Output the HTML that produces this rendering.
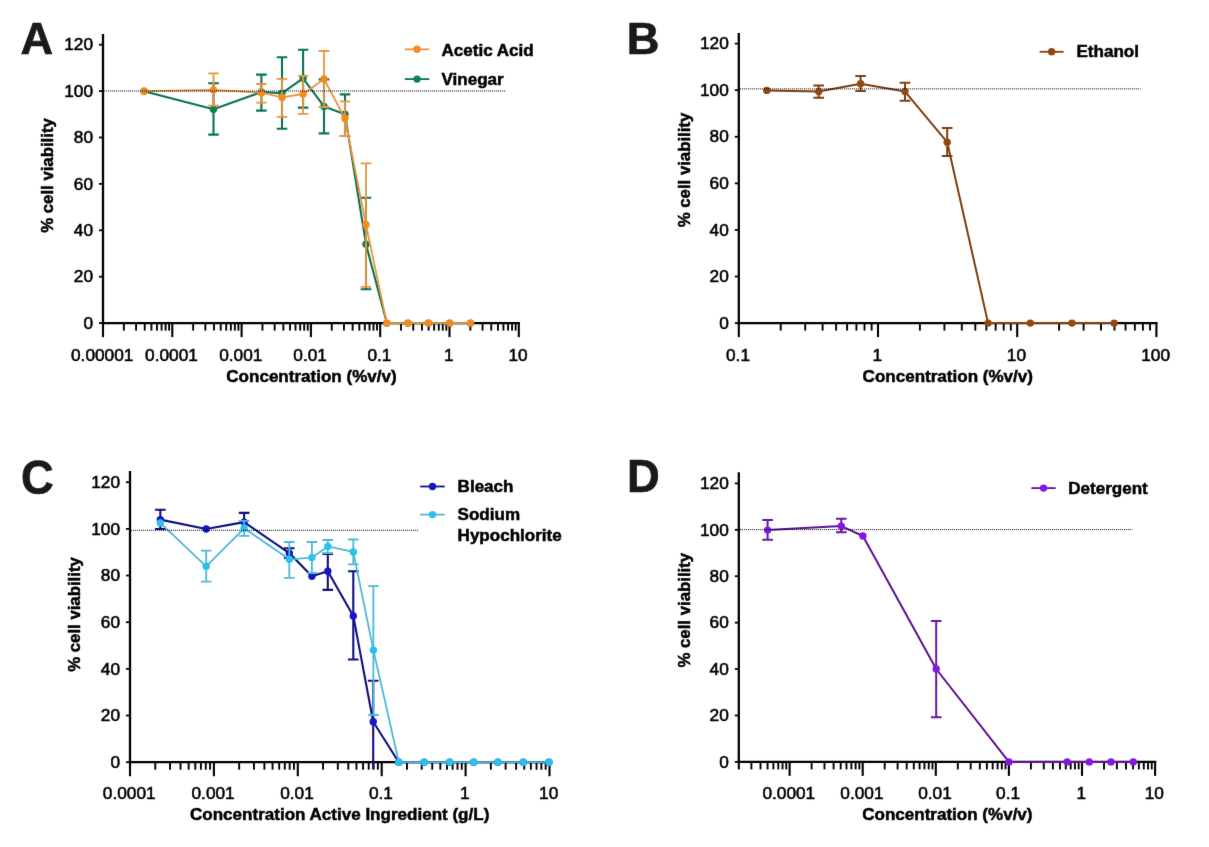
<!DOCTYPE html>
<html><head><meta charset="utf-8"><title>Figure</title>
<style>html,body{margin:0;padding:0;background:#fff}body{width:1209px;height:847px;overflow:hidden;font-family:"Liberation Sans",sans-serif}svg{display:block}</style>
</head><body>
<svg width="1209" height="847" viewBox="0 0 1209 847" font-family="Liberation Sans, sans-serif">
<defs><filter id="soft" x="0" y="0" width="1209" height="847" filterUnits="userSpaceOnUse" color-interpolation-filters="sRGB"><feConvolveMatrix order="3" kernelMatrix="0.00524 0.06192 0.00524 0.06192 0.73137 0.06192 0.00524 0.06192 0.00524" divisor="1" edgeMode="duplicate" preserveAlpha="true"/></filter></defs>
<rect width="1209" height="847" fill="#fff"/>
<g filter="url(#soft)">
<rect width="1209" height="847" fill="#fff"/>
<text x="20.6" y="54.2" font-size="45.2" font-weight="bold" fill="#1a1a1a" stroke="#1a1a1a" stroke-width="0.7" stroke-linejoin="round">A</text>
<line x1="103" y1="34" x2="103" y2="324.25" stroke="#000" stroke-width="2.3"/>
<line x1="101.85" y1="323.1" x2="519.9499999999999" y2="323.1" stroke="#000" stroke-width="2.3"/>
<line x1="99.0" y1="323.10" x2="103" y2="323.10" stroke="#000" stroke-width="1.8"/>
<text x="93" y="328.80" font-size="17.25" text-anchor="end" fill="#000" stroke="#000" stroke-width="0.55">0</text>
<line x1="99.0" y1="276.70" x2="103" y2="276.70" stroke="#000" stroke-width="1.8"/>
<text x="93" y="282.40" font-size="17.25" text-anchor="end" fill="#000" stroke="#000" stroke-width="0.55">20</text>
<line x1="99.0" y1="230.30" x2="103" y2="230.30" stroke="#000" stroke-width="1.8"/>
<text x="93" y="236.00" font-size="17.25" text-anchor="end" fill="#000" stroke="#000" stroke-width="0.55">40</text>
<line x1="99.0" y1="183.90" x2="103" y2="183.90" stroke="#000" stroke-width="1.8"/>
<text x="93" y="189.60" font-size="17.25" text-anchor="end" fill="#000" stroke="#000" stroke-width="0.55">60</text>
<line x1="99.0" y1="137.50" x2="103" y2="137.50" stroke="#000" stroke-width="1.8"/>
<text x="93" y="143.20" font-size="17.25" text-anchor="end" fill="#000" stroke="#000" stroke-width="0.55">80</text>
<line x1="99.0" y1="91.10" x2="103" y2="91.10" stroke="#000" stroke-width="1.8"/>
<text x="93" y="96.80" font-size="17.25" text-anchor="end" fill="#000" stroke="#000" stroke-width="0.55">100</text>
<line x1="99.0" y1="44.70" x2="103" y2="44.70" stroke="#000" stroke-width="1.8"/>
<text x="93" y="50.40" font-size="17.25" text-anchor="end" fill="#000" stroke="#000" stroke-width="0.55">120</text>
<line x1="103.00" y1="323.1" x2="103.00" y2="337.1" stroke="#000" stroke-width="2.1"/>
<text x="102.20" y="360.5" font-size="17.25" text-anchor="middle" fill="#000" stroke="#000" stroke-width="0.55">0.00001</text>
<line x1="172.30" y1="323.1" x2="172.30" y2="337.1" stroke="#000" stroke-width="2.1"/>
<text x="171.50" y="360.5" font-size="17.25" text-anchor="middle" fill="#000" stroke="#000" stroke-width="0.55">0.0001</text>
<line x1="241.60" y1="323.1" x2="241.60" y2="337.1" stroke="#000" stroke-width="2.1"/>
<text x="240.80" y="360.5" font-size="17.25" text-anchor="middle" fill="#000" stroke="#000" stroke-width="0.55">0.001</text>
<line x1="310.90" y1="323.1" x2="310.90" y2="337.1" stroke="#000" stroke-width="2.1"/>
<text x="310.10" y="360.5" font-size="17.25" text-anchor="middle" fill="#000" stroke="#000" stroke-width="0.55">0.01</text>
<line x1="380.20" y1="323.1" x2="380.20" y2="337.1" stroke="#000" stroke-width="2.1"/>
<text x="379.40" y="360.5" font-size="17.25" text-anchor="middle" fill="#000" stroke="#000" stroke-width="0.55">0.1</text>
<line x1="449.50" y1="323.1" x2="449.50" y2="337.1" stroke="#000" stroke-width="2.1"/>
<text x="448.70" y="360.5" font-size="17.25" text-anchor="middle" fill="#000" stroke="#000" stroke-width="0.55">1</text>
<line x1="518.80" y1="323.1" x2="518.80" y2="337.1" stroke="#000" stroke-width="2.1"/>
<text x="518.00" y="360.5" font-size="17.25" text-anchor="middle" fill="#000" stroke="#000" stroke-width="0.55">10</text>
<line x1="123.86" y1="323.1" x2="123.86" y2="330.6" stroke="#000" stroke-width="1.9"/>
<line x1="136.06" y1="323.1" x2="136.06" y2="330.6" stroke="#000" stroke-width="1.9"/>
<line x1="144.72" y1="323.1" x2="144.72" y2="330.6" stroke="#000" stroke-width="1.9"/>
<line x1="151.44" y1="323.1" x2="151.44" y2="330.6" stroke="#000" stroke-width="1.9"/>
<line x1="156.93" y1="323.1" x2="156.93" y2="330.6" stroke="#000" stroke-width="1.9"/>
<line x1="161.57" y1="323.1" x2="161.57" y2="330.6" stroke="#000" stroke-width="1.9"/>
<line x1="165.58" y1="323.1" x2="165.58" y2="330.6" stroke="#000" stroke-width="1.9"/>
<line x1="169.13" y1="323.1" x2="169.13" y2="330.6" stroke="#000" stroke-width="1.9"/>
<line x1="193.16" y1="323.1" x2="193.16" y2="330.6" stroke="#000" stroke-width="1.9"/>
<line x1="205.36" y1="323.1" x2="205.36" y2="330.6" stroke="#000" stroke-width="1.9"/>
<line x1="214.02" y1="323.1" x2="214.02" y2="330.6" stroke="#000" stroke-width="1.9"/>
<line x1="220.74" y1="323.1" x2="220.74" y2="330.6" stroke="#000" stroke-width="1.9"/>
<line x1="226.23" y1="323.1" x2="226.23" y2="330.6" stroke="#000" stroke-width="1.9"/>
<line x1="230.87" y1="323.1" x2="230.87" y2="330.6" stroke="#000" stroke-width="1.9"/>
<line x1="234.88" y1="323.1" x2="234.88" y2="330.6" stroke="#000" stroke-width="1.9"/>
<line x1="238.43" y1="323.1" x2="238.43" y2="330.6" stroke="#000" stroke-width="1.9"/>
<line x1="262.46" y1="323.1" x2="262.46" y2="330.6" stroke="#000" stroke-width="1.9"/>
<line x1="274.66" y1="323.1" x2="274.66" y2="330.6" stroke="#000" stroke-width="1.9"/>
<line x1="283.32" y1="323.1" x2="283.32" y2="330.6" stroke="#000" stroke-width="1.9"/>
<line x1="290.04" y1="323.1" x2="290.04" y2="330.6" stroke="#000" stroke-width="1.9"/>
<line x1="295.53" y1="323.1" x2="295.53" y2="330.6" stroke="#000" stroke-width="1.9"/>
<line x1="300.17" y1="323.1" x2="300.17" y2="330.6" stroke="#000" stroke-width="1.9"/>
<line x1="304.18" y1="323.1" x2="304.18" y2="330.6" stroke="#000" stroke-width="1.9"/>
<line x1="307.73" y1="323.1" x2="307.73" y2="330.6" stroke="#000" stroke-width="1.9"/>
<line x1="331.76" y1="323.1" x2="331.76" y2="330.6" stroke="#000" stroke-width="1.9"/>
<line x1="343.96" y1="323.1" x2="343.96" y2="330.6" stroke="#000" stroke-width="1.9"/>
<line x1="352.62" y1="323.1" x2="352.62" y2="330.6" stroke="#000" stroke-width="1.9"/>
<line x1="359.34" y1="323.1" x2="359.34" y2="330.6" stroke="#000" stroke-width="1.9"/>
<line x1="364.83" y1="323.1" x2="364.83" y2="330.6" stroke="#000" stroke-width="1.9"/>
<line x1="369.47" y1="323.1" x2="369.47" y2="330.6" stroke="#000" stroke-width="1.9"/>
<line x1="373.48" y1="323.1" x2="373.48" y2="330.6" stroke="#000" stroke-width="1.9"/>
<line x1="377.03" y1="323.1" x2="377.03" y2="330.6" stroke="#000" stroke-width="1.9"/>
<line x1="401.06" y1="323.1" x2="401.06" y2="330.6" stroke="#000" stroke-width="1.9"/>
<line x1="413.26" y1="323.1" x2="413.26" y2="330.6" stroke="#000" stroke-width="1.9"/>
<line x1="421.92" y1="323.1" x2="421.92" y2="330.6" stroke="#000" stroke-width="1.9"/>
<line x1="428.64" y1="323.1" x2="428.64" y2="330.6" stroke="#000" stroke-width="1.9"/>
<line x1="434.13" y1="323.1" x2="434.13" y2="330.6" stroke="#000" stroke-width="1.9"/>
<line x1="438.77" y1="323.1" x2="438.77" y2="330.6" stroke="#000" stroke-width="1.9"/>
<line x1="442.78" y1="323.1" x2="442.78" y2="330.6" stroke="#000" stroke-width="1.9"/>
<line x1="446.33" y1="323.1" x2="446.33" y2="330.6" stroke="#000" stroke-width="1.9"/>
<line x1="470.36" y1="323.1" x2="470.36" y2="330.6" stroke="#000" stroke-width="1.9"/>
<line x1="482.56" y1="323.1" x2="482.56" y2="330.6" stroke="#000" stroke-width="1.9"/>
<line x1="491.22" y1="323.1" x2="491.22" y2="330.6" stroke="#000" stroke-width="1.9"/>
<line x1="497.94" y1="323.1" x2="497.94" y2="330.6" stroke="#000" stroke-width="1.9"/>
<line x1="503.43" y1="323.1" x2="503.43" y2="330.6" stroke="#000" stroke-width="1.9"/>
<line x1="508.07" y1="323.1" x2="508.07" y2="330.6" stroke="#000" stroke-width="1.9"/>
<line x1="512.08" y1="323.1" x2="512.08" y2="330.6" stroke="#000" stroke-width="1.9"/>
<line x1="515.63" y1="323.1" x2="515.63" y2="330.6" stroke="#000" stroke-width="1.9"/>
<text transform="translate(52.9 175.5) rotate(-90)" font-size="16.8" font-weight="bold" text-anchor="middle" fill="#000" stroke="#000" stroke-width="0.5">% cell viability</text>
<text x="226.3" y="382" font-size="17.05" font-weight="bold" fill="#000" stroke="#000" stroke-width="0.5">Concentration (%v/v)</text>
<path d="M213.5 109.3V83.3M208.2 83.3H218.8" stroke="#0B7450" stroke-width="2.1" fill="none"/>
<path d="M213.5 109.3V134.6M208.2 134.6H218.8" stroke="#0B7450" stroke-width="2.1" fill="none"/>
<path d="M261.4 92V74.6M256.09999999999997 74.6H266.7" stroke="#0B7450" stroke-width="2.1" fill="none"/>
<path d="M261.4 92V110.6M256.09999999999997 110.6H266.7" stroke="#0B7450" stroke-width="2.1" fill="none"/>
<path d="M282 93.2V57.2M276.7 57.2H287.3" stroke="#0B7450" stroke-width="2.1" fill="none"/>
<path d="M282 93.2V128.7M276.7 128.7H287.3" stroke="#0B7450" stroke-width="2.1" fill="none"/>
<path d="M303.1 78.3V49.8M297.8 49.8H308.40000000000003" stroke="#0B7450" stroke-width="2.1" fill="none"/>
<path d="M303.1 78.3V107.6M297.8 107.6H308.40000000000003" stroke="#0B7450" stroke-width="2.1" fill="none"/>
<path d="M324 106.4V79.4M318.7 79.4H329.3" stroke="#0B7450" stroke-width="2.1" fill="none"/>
<path d="M324 106.4V133.4M318.7 133.4H329.3" stroke="#0B7450" stroke-width="2.1" fill="none"/>
<path d="M345 114.3V94.4M339.7 94.4H350.3" stroke="#0B7450" stroke-width="2.1" fill="none"/>
<path d="M345 114.3V136M339.7 136H350.3" stroke="#0B7450" stroke-width="2.1" fill="none"/>
<path d="M366 244.2V197.7M360.7 197.7H371.3" stroke="#0B7450" stroke-width="2.1" fill="none"/>
<path d="M366 244.2V289.3M360.7 289.3H371.3" stroke="#0B7450" stroke-width="2.1" fill="none"/>
<path d="M144.1 91.2 L213.5 109.3 L261.4 92 L282 93.2 L303.1 78.3 L324 106.4 L345 114.3 L366 244.2 L386.8 323.1 L407.9 323.1 L428.5 323.1 L449.6 323.1 L470.5 323.1" stroke="#0B7450" stroke-width="2.1" fill="none" stroke-linejoin="round"/>
<circle cx="144.1" cy="91.2" r="3.7" fill="#0E8058"/>
<circle cx="213.5" cy="109.3" r="3.7" fill="#0E8058"/>
<circle cx="261.4" cy="92" r="3.7" fill="#0E8058"/>
<circle cx="282" cy="93.2" r="3.7" fill="#0E8058"/>
<circle cx="303.1" cy="78.3" r="3.7" fill="#0E8058"/>
<circle cx="324" cy="106.4" r="3.7" fill="#0E8058"/>
<circle cx="345" cy="114.3" r="3.7" fill="#0E8058"/>
<circle cx="366" cy="244.2" r="3.7" fill="#0E8058"/>
<circle cx="386.8" cy="323.1" r="3.7" fill="#0E8058"/>
<circle cx="407.9" cy="323.1" r="3.7" fill="#0E8058"/>
<circle cx="428.5" cy="323.1" r="3.7" fill="#0E8058"/>
<circle cx="449.6" cy="323.1" r="3.7" fill="#0E8058"/>
<circle cx="470.5" cy="323.1" r="3.7" fill="#0E8058"/>
<path d="M213.5 90V73.3M208.2 73.3H218.8" stroke="#E9953F" stroke-width="1.8" fill="none"/>
<path d="M213.5 90V105.6M208.2 105.6H218.8" stroke="#E9953F" stroke-width="1.8" fill="none"/>
<path d="M261.4 92.7V84M256.09999999999997 84H266.7" stroke="#E9953F" stroke-width="1.8" fill="none"/>
<path d="M261.4 92.7V102.6M256.09999999999997 102.6H266.7" stroke="#E9953F" stroke-width="1.8" fill="none"/>
<path d="M282 97.4V78.8M276.7 78.8H287.3" stroke="#E9953F" stroke-width="1.8" fill="none"/>
<path d="M282 97.4V116.8M276.7 116.8H287.3" stroke="#E9953F" stroke-width="1.8" fill="none"/>
<path d="M303.1 94V75.8M297.8 75.8H308.40000000000003" stroke="#E9953F" stroke-width="1.8" fill="none"/>
<path d="M303.1 94V113.8M297.8 113.8H308.40000000000003" stroke="#E9953F" stroke-width="1.8" fill="none"/>
<path d="M324 79V51M318.7 51H329.3" stroke="#E9953F" stroke-width="1.8" fill="none"/>
<path d="M324 79V107M318.7 107H329.3" stroke="#E9953F" stroke-width="1.8" fill="none"/>
<path d="M345 118.5V101.4M339.7 101.4H350.3" stroke="#E9953F" stroke-width="1.8" fill="none"/>
<path d="M345 118.5V136M339.7 136H350.3" stroke="#E9953F" stroke-width="1.8" fill="none"/>
<path d="M366 224.8V163.4M360.7 163.4H371.3" stroke="#E9953F" stroke-width="1.8" fill="none"/>
<path d="M366 224.8V286.8M360.7 286.8H371.3" stroke="#E9953F" stroke-width="1.8" fill="none"/>
<path d="M144.1 91.2 L213.5 90 L261.4 92.7 L282 97.4 L303.1 94 L324 79 L345 118.5 L366 224.8 L386.8 323.1 L407.9 323.1 L428.5 323.1 L449.6 323.1 L470.5 323.1" stroke="#E9953F" stroke-width="1.8" fill="none" stroke-linejoin="round"/>
<circle cx="144.1" cy="91.2" r="3.7" fill="#F58A1F"/>
<circle cx="213.5" cy="90" r="3.7" fill="#F58A1F"/>
<circle cx="261.4" cy="92.7" r="3.7" fill="#F58A1F"/>
<circle cx="282" cy="97.4" r="3.7" fill="#F58A1F"/>
<circle cx="303.1" cy="94" r="3.7" fill="#F58A1F"/>
<circle cx="324" cy="79" r="3.7" fill="#F58A1F"/>
<circle cx="345" cy="118.5" r="3.7" fill="#F58A1F"/>
<circle cx="366" cy="224.8" r="3.7" fill="#F58A1F"/>
<circle cx="386.8" cy="323.1" r="3.7" fill="#F58A1F"/>
<circle cx="407.9" cy="323.1" r="3.7" fill="#F58A1F"/>
<circle cx="428.5" cy="323.1" r="3.7" fill="#F58A1F"/>
<circle cx="449.6" cy="323.1" r="3.7" fill="#F58A1F"/>
<circle cx="470.5" cy="323.1" r="3.7" fill="#F58A1F"/>
<line x1="104.1" y1="91" x2="505.4" y2="91" stroke="#000" stroke-width="1" stroke-dasharray="1 1"/>
<line x1="404.8" y1="49.3" x2="429.3" y2="49.3" stroke="#E9953F" stroke-width="1.8"/>
<circle cx="417.05" cy="49.3" r="3.7" fill="#F58A1F"/>
<text x="441.5" y="55.6" font-size="17.05" font-weight="bold" fill="#000" stroke="#000" stroke-width="0.5">Acetic Acid</text>
<line x1="404.8" y1="79.1" x2="429.3" y2="79.1" stroke="#0B7450" stroke-width="1.8"/>
<circle cx="417.05" cy="79.1" r="3.7" fill="#0E8058"/>
<text x="441.5" y="85.3" font-size="17.05" font-weight="bold" fill="#000" stroke="#000" stroke-width="0.5">Vinegar</text>
<text x="626.8" y="54.2" font-size="45.2" font-weight="bold" fill="#1a1a1a" stroke="#1a1a1a" stroke-width="0.7" stroke-linejoin="round">B</text>
<line x1="738.8" y1="33" x2="738.8" y2="324.25" stroke="#000" stroke-width="2.3"/>
<line x1="737.65" y1="323.1" x2="1157.55" y2="323.1" stroke="#000" stroke-width="2.3"/>
<line x1="734.8" y1="323.10" x2="738.8" y2="323.10" stroke="#000" stroke-width="1.8"/>
<text x="728.8" y="328.80" font-size="17.25" text-anchor="end" fill="#000" stroke="#000" stroke-width="0.55">0</text>
<line x1="734.8" y1="276.52" x2="738.8" y2="276.52" stroke="#000" stroke-width="1.8"/>
<text x="728.8" y="282.22" font-size="17.25" text-anchor="end" fill="#000" stroke="#000" stroke-width="0.55">20</text>
<line x1="734.8" y1="229.93" x2="738.8" y2="229.93" stroke="#000" stroke-width="1.8"/>
<text x="728.8" y="235.63" font-size="17.25" text-anchor="end" fill="#000" stroke="#000" stroke-width="0.55">40</text>
<line x1="734.8" y1="183.35" x2="738.8" y2="183.35" stroke="#000" stroke-width="1.8"/>
<text x="728.8" y="189.05" font-size="17.25" text-anchor="end" fill="#000" stroke="#000" stroke-width="0.55">60</text>
<line x1="734.8" y1="136.77" x2="738.8" y2="136.77" stroke="#000" stroke-width="1.8"/>
<text x="728.8" y="142.47" font-size="17.25" text-anchor="end" fill="#000" stroke="#000" stroke-width="0.55">80</text>
<line x1="734.8" y1="90.18" x2="738.8" y2="90.18" stroke="#000" stroke-width="1.8"/>
<text x="728.8" y="95.88" font-size="17.25" text-anchor="end" fill="#000" stroke="#000" stroke-width="0.55">100</text>
<line x1="734.8" y1="43.60" x2="738.8" y2="43.60" stroke="#000" stroke-width="1.8"/>
<text x="728.8" y="49.30" font-size="17.25" text-anchor="end" fill="#000" stroke="#000" stroke-width="0.55">120</text>
<line x1="738.80" y1="323.1" x2="738.80" y2="337.1" stroke="#000" stroke-width="2.1"/>
<text x="738.00" y="360.5" font-size="17.25" text-anchor="middle" fill="#000" stroke="#000" stroke-width="0.55">0.1</text>
<line x1="878.00" y1="323.1" x2="878.00" y2="337.1" stroke="#000" stroke-width="2.1"/>
<text x="877.20" y="360.5" font-size="17.25" text-anchor="middle" fill="#000" stroke="#000" stroke-width="0.55">1</text>
<line x1="1017.20" y1="323.1" x2="1017.20" y2="337.1" stroke="#000" stroke-width="2.1"/>
<text x="1016.40" y="360.5" font-size="17.25" text-anchor="middle" fill="#000" stroke="#000" stroke-width="0.55">10</text>
<line x1="1156.40" y1="323.1" x2="1156.40" y2="337.1" stroke="#000" stroke-width="2.1"/>
<text x="1155.60" y="360.5" font-size="17.25" text-anchor="middle" fill="#000" stroke="#000" stroke-width="0.55">100</text>
<line x1="780.70" y1="323.1" x2="780.70" y2="330.6" stroke="#000" stroke-width="1.9"/>
<line x1="805.22" y1="323.1" x2="805.22" y2="330.6" stroke="#000" stroke-width="1.9"/>
<line x1="822.61" y1="323.1" x2="822.61" y2="330.6" stroke="#000" stroke-width="1.9"/>
<line x1="836.10" y1="323.1" x2="836.10" y2="330.6" stroke="#000" stroke-width="1.9"/>
<line x1="847.12" y1="323.1" x2="847.12" y2="330.6" stroke="#000" stroke-width="1.9"/>
<line x1="856.44" y1="323.1" x2="856.44" y2="330.6" stroke="#000" stroke-width="1.9"/>
<line x1="864.51" y1="323.1" x2="864.51" y2="330.6" stroke="#000" stroke-width="1.9"/>
<line x1="871.63" y1="323.1" x2="871.63" y2="330.6" stroke="#000" stroke-width="1.9"/>
<line x1="919.90" y1="323.1" x2="919.90" y2="330.6" stroke="#000" stroke-width="1.9"/>
<line x1="944.42" y1="323.1" x2="944.42" y2="330.6" stroke="#000" stroke-width="1.9"/>
<line x1="961.81" y1="323.1" x2="961.81" y2="330.6" stroke="#000" stroke-width="1.9"/>
<line x1="975.30" y1="323.1" x2="975.30" y2="330.6" stroke="#000" stroke-width="1.9"/>
<line x1="986.32" y1="323.1" x2="986.32" y2="330.6" stroke="#000" stroke-width="1.9"/>
<line x1="995.64" y1="323.1" x2="995.64" y2="330.6" stroke="#000" stroke-width="1.9"/>
<line x1="1003.71" y1="323.1" x2="1003.71" y2="330.6" stroke="#000" stroke-width="1.9"/>
<line x1="1010.83" y1="323.1" x2="1010.83" y2="330.6" stroke="#000" stroke-width="1.9"/>
<line x1="1059.10" y1="323.1" x2="1059.10" y2="330.6" stroke="#000" stroke-width="1.9"/>
<line x1="1083.62" y1="323.1" x2="1083.62" y2="330.6" stroke="#000" stroke-width="1.9"/>
<line x1="1101.01" y1="323.1" x2="1101.01" y2="330.6" stroke="#000" stroke-width="1.9"/>
<line x1="1114.50" y1="323.1" x2="1114.50" y2="330.6" stroke="#000" stroke-width="1.9"/>
<line x1="1125.52" y1="323.1" x2="1125.52" y2="330.6" stroke="#000" stroke-width="1.9"/>
<line x1="1134.84" y1="323.1" x2="1134.84" y2="330.6" stroke="#000" stroke-width="1.9"/>
<line x1="1142.91" y1="323.1" x2="1142.91" y2="330.6" stroke="#000" stroke-width="1.9"/>
<line x1="1150.03" y1="323.1" x2="1150.03" y2="330.6" stroke="#000" stroke-width="1.9"/>
<text transform="translate(689.5 170) rotate(-90)" font-size="16.8" font-weight="bold" text-anchor="middle" fill="#000" stroke="#000" stroke-width="0.5">% cell viability</text>
<text x="862.6" y="382" font-size="17.05" font-weight="bold" fill="#000" stroke="#000" stroke-width="0.5">Concentration (%v/v)</text>
<path d="M818.7 91.6V85.4M813.4000000000001 85.4H824.0" stroke="#7E3F12" stroke-width="2.0" fill="none"/>
<path d="M818.7 91.6V97.8M813.4000000000001 97.8H824.0" stroke="#7E3F12" stroke-width="2.0" fill="none"/>
<path d="M860.6 83.7V76M855.3000000000001 76H865.9" stroke="#7E3F12" stroke-width="2.0" fill="none"/>
<path d="M860.6 83.7V90.9M855.3000000000001 90.9H865.9" stroke="#7E3F12" stroke-width="2.0" fill="none"/>
<path d="M905 91.6V82.7M899.7 82.7H910.3" stroke="#7E3F12" stroke-width="2.0" fill="none"/>
<path d="M905 91.6V100.8M899.7 100.8H910.3" stroke="#7E3F12" stroke-width="2.0" fill="none"/>
<path d="M947.2 142.2V128.1M941.9000000000001 128.1H952.5" stroke="#7E3F12" stroke-width="2.0" fill="none"/>
<path d="M947.2 142.2V156.1M941.9000000000001 156.1H952.5" stroke="#7E3F12" stroke-width="2.0" fill="none"/>
<path d="M766.8 90.4 L818.7 91.6 L860.6 83.7 L905 91.6 L947.2 142.2 L988.1 323.1 L1030.3 323.1 L1072 323.1 L1114.1 323.1" stroke="#7E3F12" stroke-width="2.0" fill="none" stroke-linejoin="round"/>
<circle cx="766.8" cy="90.4" r="3.7" fill="#93480F"/>
<circle cx="818.7" cy="91.6" r="3.7" fill="#93480F"/>
<circle cx="860.6" cy="83.7" r="3.7" fill="#93480F"/>
<circle cx="905" cy="91.6" r="3.7" fill="#93480F"/>
<circle cx="947.2" cy="142.2" r="3.7" fill="#93480F"/>
<circle cx="988.1" cy="323.1" r="3.7" fill="#93480F"/>
<circle cx="1030.3" cy="323.1" r="3.7" fill="#93480F"/>
<circle cx="1072" cy="323.1" r="3.7" fill="#93480F"/>
<circle cx="1114.1" cy="323.1" r="3.7" fill="#93480F"/>
<line x1="739.9" y1="88.9" x2="1140.5" y2="88.9" stroke="#000" stroke-width="1" stroke-dasharray="1 1"/>
<line x1="1039.6" y1="51.8" x2="1063.6" y2="51.8" stroke="#7E3F12" stroke-width="1.8"/>
<circle cx="1051.6" cy="51.8" r="3.7" fill="#93480F"/>
<text x="1076.5" y="57.2" font-size="17.05" font-weight="bold" fill="#000" stroke="#000" stroke-width="0.5">Ethanol</text>
<text transform="translate(21.0 493.6) scale(0.935 1)" font-size="48.5" font-weight="bold" fill="#1a1a1a" stroke="#1a1a1a" stroke-width="0.7" stroke-linejoin="round">C</text>
<line x1="130" y1="471" x2="130" y2="763.35" stroke="#000" stroke-width="2.3"/>
<line x1="128.85" y1="762.2" x2="550.65" y2="762.2" stroke="#000" stroke-width="2.3"/>
<line x1="126.0" y1="762.20" x2="130" y2="762.20" stroke="#000" stroke-width="1.8"/>
<text x="120" y="767.90" font-size="17.25" text-anchor="end" fill="#000" stroke="#000" stroke-width="0.55">0</text>
<line x1="126.0" y1="715.53" x2="130" y2="715.53" stroke="#000" stroke-width="1.8"/>
<text x="120" y="721.23" font-size="17.25" text-anchor="end" fill="#000" stroke="#000" stroke-width="0.55">20</text>
<line x1="126.0" y1="668.87" x2="130" y2="668.87" stroke="#000" stroke-width="1.8"/>
<text x="120" y="674.57" font-size="17.25" text-anchor="end" fill="#000" stroke="#000" stroke-width="0.55">40</text>
<line x1="126.0" y1="622.20" x2="130" y2="622.20" stroke="#000" stroke-width="1.8"/>
<text x="120" y="627.90" font-size="17.25" text-anchor="end" fill="#000" stroke="#000" stroke-width="0.55">60</text>
<line x1="126.0" y1="575.53" x2="130" y2="575.53" stroke="#000" stroke-width="1.8"/>
<text x="120" y="581.23" font-size="17.25" text-anchor="end" fill="#000" stroke="#000" stroke-width="0.55">80</text>
<line x1="126.0" y1="528.87" x2="130" y2="528.87" stroke="#000" stroke-width="1.8"/>
<text x="120" y="534.57" font-size="17.25" text-anchor="end" fill="#000" stroke="#000" stroke-width="0.55">100</text>
<line x1="126.0" y1="482.20" x2="130" y2="482.20" stroke="#000" stroke-width="1.8"/>
<text x="120" y="487.90" font-size="17.25" text-anchor="end" fill="#000" stroke="#000" stroke-width="0.55">120</text>
<line x1="130.00" y1="762.2" x2="130.00" y2="776.2" stroke="#000" stroke-width="2.1"/>
<text x="129.20" y="798.6" font-size="17.25" text-anchor="middle" fill="#000" stroke="#000" stroke-width="0.55">0.0001</text>
<line x1="213.90" y1="762.2" x2="213.90" y2="776.2" stroke="#000" stroke-width="2.1"/>
<text x="213.10" y="798.6" font-size="17.25" text-anchor="middle" fill="#000" stroke="#000" stroke-width="0.55">0.001</text>
<line x1="297.80" y1="762.2" x2="297.80" y2="776.2" stroke="#000" stroke-width="2.1"/>
<text x="297.00" y="798.6" font-size="17.25" text-anchor="middle" fill="#000" stroke="#000" stroke-width="0.55">0.01</text>
<line x1="381.70" y1="762.2" x2="381.70" y2="776.2" stroke="#000" stroke-width="2.1"/>
<text x="380.90" y="798.6" font-size="17.25" text-anchor="middle" fill="#000" stroke="#000" stroke-width="0.55">0.1</text>
<line x1="465.60" y1="762.2" x2="465.60" y2="776.2" stroke="#000" stroke-width="2.1"/>
<text x="464.80" y="798.6" font-size="17.25" text-anchor="middle" fill="#000" stroke="#000" stroke-width="0.55">1</text>
<line x1="549.50" y1="762.2" x2="549.50" y2="776.2" stroke="#000" stroke-width="2.1"/>
<text x="548.70" y="798.6" font-size="17.25" text-anchor="middle" fill="#000" stroke="#000" stroke-width="0.55">10</text>
<line x1="155.26" y1="762.2" x2="155.26" y2="769.7" stroke="#000" stroke-width="1.9"/>
<line x1="170.03" y1="762.2" x2="170.03" y2="769.7" stroke="#000" stroke-width="1.9"/>
<line x1="180.51" y1="762.2" x2="180.51" y2="769.7" stroke="#000" stroke-width="1.9"/>
<line x1="188.64" y1="762.2" x2="188.64" y2="769.7" stroke="#000" stroke-width="1.9"/>
<line x1="195.29" y1="762.2" x2="195.29" y2="769.7" stroke="#000" stroke-width="1.9"/>
<line x1="200.90" y1="762.2" x2="200.90" y2="769.7" stroke="#000" stroke-width="1.9"/>
<line x1="205.77" y1="762.2" x2="205.77" y2="769.7" stroke="#000" stroke-width="1.9"/>
<line x1="210.06" y1="762.2" x2="210.06" y2="769.7" stroke="#000" stroke-width="1.9"/>
<line x1="239.16" y1="762.2" x2="239.16" y2="769.7" stroke="#000" stroke-width="1.9"/>
<line x1="253.93" y1="762.2" x2="253.93" y2="769.7" stroke="#000" stroke-width="1.9"/>
<line x1="264.41" y1="762.2" x2="264.41" y2="769.7" stroke="#000" stroke-width="1.9"/>
<line x1="272.54" y1="762.2" x2="272.54" y2="769.7" stroke="#000" stroke-width="1.9"/>
<line x1="279.19" y1="762.2" x2="279.19" y2="769.7" stroke="#000" stroke-width="1.9"/>
<line x1="284.80" y1="762.2" x2="284.80" y2="769.7" stroke="#000" stroke-width="1.9"/>
<line x1="289.67" y1="762.2" x2="289.67" y2="769.7" stroke="#000" stroke-width="1.9"/>
<line x1="293.96" y1="762.2" x2="293.96" y2="769.7" stroke="#000" stroke-width="1.9"/>
<line x1="323.06" y1="762.2" x2="323.06" y2="769.7" stroke="#000" stroke-width="1.9"/>
<line x1="337.83" y1="762.2" x2="337.83" y2="769.7" stroke="#000" stroke-width="1.9"/>
<line x1="348.31" y1="762.2" x2="348.31" y2="769.7" stroke="#000" stroke-width="1.9"/>
<line x1="356.44" y1="762.2" x2="356.44" y2="769.7" stroke="#000" stroke-width="1.9"/>
<line x1="363.09" y1="762.2" x2="363.09" y2="769.7" stroke="#000" stroke-width="1.9"/>
<line x1="368.70" y1="762.2" x2="368.70" y2="769.7" stroke="#000" stroke-width="1.9"/>
<line x1="373.57" y1="762.2" x2="373.57" y2="769.7" stroke="#000" stroke-width="1.9"/>
<line x1="377.86" y1="762.2" x2="377.86" y2="769.7" stroke="#000" stroke-width="1.9"/>
<line x1="406.96" y1="762.2" x2="406.96" y2="769.7" stroke="#000" stroke-width="1.9"/>
<line x1="421.73" y1="762.2" x2="421.73" y2="769.7" stroke="#000" stroke-width="1.9"/>
<line x1="432.21" y1="762.2" x2="432.21" y2="769.7" stroke="#000" stroke-width="1.9"/>
<line x1="440.34" y1="762.2" x2="440.34" y2="769.7" stroke="#000" stroke-width="1.9"/>
<line x1="446.99" y1="762.2" x2="446.99" y2="769.7" stroke="#000" stroke-width="1.9"/>
<line x1="452.60" y1="762.2" x2="452.60" y2="769.7" stroke="#000" stroke-width="1.9"/>
<line x1="457.47" y1="762.2" x2="457.47" y2="769.7" stroke="#000" stroke-width="1.9"/>
<line x1="461.76" y1="762.2" x2="461.76" y2="769.7" stroke="#000" stroke-width="1.9"/>
<line x1="490.86" y1="762.2" x2="490.86" y2="769.7" stroke="#000" stroke-width="1.9"/>
<line x1="505.63" y1="762.2" x2="505.63" y2="769.7" stroke="#000" stroke-width="1.9"/>
<line x1="516.11" y1="762.2" x2="516.11" y2="769.7" stroke="#000" stroke-width="1.9"/>
<line x1="524.24" y1="762.2" x2="524.24" y2="769.7" stroke="#000" stroke-width="1.9"/>
<line x1="530.89" y1="762.2" x2="530.89" y2="769.7" stroke="#000" stroke-width="1.9"/>
<line x1="536.50" y1="762.2" x2="536.50" y2="769.7" stroke="#000" stroke-width="1.9"/>
<line x1="541.37" y1="762.2" x2="541.37" y2="769.7" stroke="#000" stroke-width="1.9"/>
<line x1="545.66" y1="762.2" x2="545.66" y2="769.7" stroke="#000" stroke-width="1.9"/>
<text transform="translate(80.3 614.5) rotate(-90)" font-size="16.8" font-weight="bold" text-anchor="middle" fill="#000" stroke="#000" stroke-width="0.5">% cell viability</text>
<text x="190" y="820.4" font-size="17.05" font-weight="bold" fill="#000" stroke="#000" stroke-width="0.5">Concentration Active Ingredient (g/L)</text>
<path d="M160.3 519.6V509.7M155.0 509.7H165.60000000000002" stroke="#101080" stroke-width="2.1" fill="none"/>
<path d="M160.3 519.6V529M155.0 529H165.60000000000002" stroke="#101080" stroke-width="2.1" fill="none"/>
<path d="M244.1 522.1V512.9M238.79999999999998 512.9H249.4" stroke="#101080" stroke-width="2.1" fill="none"/>
<path d="M289.3 553.1V548.2M284.0 548.2H294.6" stroke="#101080" stroke-width="2.1" fill="none"/>
<path d="M289.3 553.1V558M284.0 558H294.6" stroke="#101080" stroke-width="2.1" fill="none"/>
<path d="M327.8 571.2V553.9M322.5 553.9H333.1" stroke="#101080" stroke-width="2.1" fill="none"/>
<path d="M327.8 571.2V589.9M322.5 589.9H333.1" stroke="#101080" stroke-width="2.1" fill="none"/>
<path d="M353.3 615.9V571.2M348.0 571.2H358.6" stroke="#101080" stroke-width="2.1" fill="none"/>
<path d="M353.3 615.9V659.5M348.0 659.5H358.6" stroke="#101080" stroke-width="2.1" fill="none"/>
<path d="M373.2 721.7V680.8M367.9 680.8H378.5" stroke="#101080" stroke-width="2.1" fill="none"/>
<path d="M373.2 721.7V769" stroke="#101080" stroke-width="2.1" fill="none"/>
<path d="M160.3 519.6 L206.2 529 L244.1 522.1 L289.3 553.1 L311.9 576.2 L327.8 571.2 L353.3 615.9 L373.2 721.7 L398.8 762.2 L424.1 762.2 L449.6 762.2 L473.7 762.2 L497.8 762.2 L523.3 762.2 L548.9 762.2" stroke="#101080" stroke-width="2.1" fill="none" stroke-linejoin="round"/>
<circle cx="160.3" cy="519.6" r="3.7" fill="#1616C4"/>
<circle cx="206.2" cy="529" r="3.7" fill="#1616C4"/>
<circle cx="244.1" cy="522.1" r="3.7" fill="#1616C4"/>
<circle cx="289.3" cy="553.1" r="3.7" fill="#1616C4"/>
<circle cx="311.9" cy="576.2" r="3.7" fill="#1616C4"/>
<circle cx="327.8" cy="571.2" r="3.7" fill="#1616C4"/>
<circle cx="353.3" cy="615.9" r="3.7" fill="#1616C4"/>
<circle cx="373.2" cy="721.7" r="3.7" fill="#1616C4"/>
<circle cx="398.8" cy="762.2" r="3.7" fill="#1616C4"/>
<circle cx="424.1" cy="762.2" r="3.7" fill="#1616C4"/>
<circle cx="449.6" cy="762.2" r="3.7" fill="#1616C4"/>
<circle cx="473.7" cy="762.2" r="3.7" fill="#1616C4"/>
<circle cx="497.8" cy="762.2" r="3.7" fill="#1616C4"/>
<circle cx="523.3" cy="762.2" r="3.7" fill="#1616C4"/>
<circle cx="548.9" cy="762.2" r="3.7" fill="#1616C4"/>
<path d="M206.2 566.3V550.6M200.89999999999998 550.6H211.5" stroke="#4DB9D6" stroke-width="1.8" fill="none"/>
<path d="M206.2 566.3V581.7M200.89999999999998 581.7H211.5" stroke="#4DB9D6" stroke-width="1.8" fill="none"/>
<path d="M244.1 528.3V520.9M238.79999999999998 520.9H249.4" stroke="#4DB9D6" stroke-width="1.8" fill="none"/>
<path d="M244.1 528.3V535.8M238.79999999999998 535.8H249.4" stroke="#4DB9D6" stroke-width="1.8" fill="none"/>
<path d="M289.3 559.3V542M284.0 542H294.6" stroke="#4DB9D6" stroke-width="1.8" fill="none"/>
<path d="M289.3 559.3V577.9M284.0 577.9H294.6" stroke="#4DB9D6" stroke-width="1.8" fill="none"/>
<path d="M311.9 557.6V542M306.59999999999997 542H317.2" stroke="#4DB9D6" stroke-width="1.8" fill="none"/>
<path d="M311.9 557.6V573M306.59999999999997 573H317.2" stroke="#4DB9D6" stroke-width="1.8" fill="none"/>
<path d="M327.8 546.4V540M322.5 540H333.1" stroke="#4DB9D6" stroke-width="1.8" fill="none"/>
<path d="M327.8 546.4V553.1M322.5 553.1H333.1" stroke="#4DB9D6" stroke-width="1.8" fill="none"/>
<path d="M353.3 551.9V539.5M348.0 539.5H358.6" stroke="#4DB9D6" stroke-width="1.8" fill="none"/>
<path d="M353.3 551.9V564.3M348.0 564.3H358.6" stroke="#4DB9D6" stroke-width="1.8" fill="none"/>
<path d="M373.4 650.1V586.1M368.09999999999997 586.1H378.7" stroke="#4DB9D6" stroke-width="1.8" fill="none"/>
<path d="M373.4 650.1V715M368.09999999999997 715H378.7" stroke="#4DB9D6" stroke-width="1.8" fill="none"/>
<path d="M160.3 522.9 L206.2 566.3 L244.1 528.3 L289.3 559.3 L311.9 557.6 L327.8 546.4 L353.3 551.9 L373.4 650.1 L398.8 762.2 L424.1 762.2 L449.6 762.2 L473.7 762.2 L497.8 762.2 L523.3 762.2 L548.9 762.2" stroke="#4DB9D6" stroke-width="1.8" fill="none" stroke-linejoin="round"/>
<circle cx="160.3" cy="522.9" r="3.7" fill="#2BC0EE"/>
<circle cx="206.2" cy="566.3" r="3.7" fill="#2BC0EE"/>
<circle cx="244.1" cy="528.3" r="3.7" fill="#2BC0EE"/>
<circle cx="289.3" cy="559.3" r="3.7" fill="#2BC0EE"/>
<circle cx="311.9" cy="557.6" r="3.7" fill="#2BC0EE"/>
<circle cx="327.8" cy="546.4" r="3.7" fill="#2BC0EE"/>
<circle cx="353.3" cy="551.9" r="3.7" fill="#2BC0EE"/>
<circle cx="373.4" cy="650.1" r="3.7" fill="#2BC0EE"/>
<circle cx="398.8" cy="762.2" r="3.7" fill="#2BC0EE"/>
<circle cx="424.1" cy="762.2" r="3.7" fill="#2BC0EE"/>
<circle cx="449.6" cy="762.2" r="3.7" fill="#2BC0EE"/>
<circle cx="473.7" cy="762.2" r="3.7" fill="#2BC0EE"/>
<circle cx="497.8" cy="762.2" r="3.7" fill="#2BC0EE"/>
<circle cx="523.3" cy="762.2" r="3.7" fill="#2BC0EE"/>
<circle cx="548.9" cy="762.2" r="3.7" fill="#2BC0EE"/>
<line x1="131.1" y1="530.3" x2="419" y2="530.3" stroke="#000" stroke-width="1" stroke-dasharray="1 1"/>
<line x1="420.2" y1="486.5" x2="444.7" y2="486.5" stroke="#101080" stroke-width="1.8"/>
<circle cx="432.45" cy="486.5" r="3.7" fill="#1616C4"/>
<text x="457.6" y="492.3" font-size="17.05" font-weight="bold" fill="#000" stroke="#000" stroke-width="0.5">Bleach</text>
<line x1="420.2" y1="514.6" x2="444.7" y2="514.6" stroke="#4DB9D6" stroke-width="1.8"/>
<circle cx="432.45" cy="514.6" r="3.7" fill="#2BC0EE"/>
<text x="457.6" y="520.4" font-size="17.05" font-weight="bold" fill="#000" stroke="#000" stroke-width="0.5">Sodium</text>
<text x="457.6" y="541.1" font-size="17.05" font-weight="bold" fill="#000" stroke="#000" stroke-width="0.5">Hypochlorite</text>
<text transform="translate(627.1 492.3) scale(0.97 1)" font-size="46.8" font-weight="bold" fill="#1a1a1a" stroke="#1a1a1a" stroke-width="0.7" stroke-linejoin="round">D</text>
<line x1="738.8" y1="472.3" x2="738.8" y2="763.05" stroke="#000" stroke-width="2.3"/>
<line x1="737.65" y1="761.9" x2="1156.25" y2="761.9" stroke="#000" stroke-width="2.3"/>
<line x1="734.8" y1="761.90" x2="738.8" y2="761.90" stroke="#000" stroke-width="1.8"/>
<text x="728.8" y="767.60" font-size="17.25" text-anchor="end" fill="#000" stroke="#000" stroke-width="0.55">0</text>
<line x1="734.8" y1="715.48" x2="738.8" y2="715.48" stroke="#000" stroke-width="1.8"/>
<text x="728.8" y="721.18" font-size="17.25" text-anchor="end" fill="#000" stroke="#000" stroke-width="0.55">20</text>
<line x1="734.8" y1="669.07" x2="738.8" y2="669.07" stroke="#000" stroke-width="1.8"/>
<text x="728.8" y="674.77" font-size="17.25" text-anchor="end" fill="#000" stroke="#000" stroke-width="0.55">40</text>
<line x1="734.8" y1="622.65" x2="738.8" y2="622.65" stroke="#000" stroke-width="1.8"/>
<text x="728.8" y="628.35" font-size="17.25" text-anchor="end" fill="#000" stroke="#000" stroke-width="0.55">60</text>
<line x1="734.8" y1="576.23" x2="738.8" y2="576.23" stroke="#000" stroke-width="1.8"/>
<text x="728.8" y="581.93" font-size="17.25" text-anchor="end" fill="#000" stroke="#000" stroke-width="0.55">80</text>
<line x1="734.8" y1="529.82" x2="738.8" y2="529.82" stroke="#000" stroke-width="1.8"/>
<text x="728.8" y="535.52" font-size="17.25" text-anchor="end" fill="#000" stroke="#000" stroke-width="0.55">100</text>
<line x1="734.8" y1="483.40" x2="738.8" y2="483.40" stroke="#000" stroke-width="1.8"/>
<text x="728.8" y="489.10" font-size="17.25" text-anchor="end" fill="#000" stroke="#000" stroke-width="0.55">120</text>
<line x1="738.8" y1="761.9" x2="738.8" y2="769.4" stroke="#000" stroke-width="2.1"/>
<line x1="789.60" y1="761.9" x2="789.60" y2="775.9" stroke="#000" stroke-width="2.1"/>
<text x="788.80" y="798.6" font-size="17.25" text-anchor="middle" fill="#000" stroke="#000" stroke-width="0.55">0.0001</text>
<line x1="862.70" y1="761.9" x2="862.70" y2="775.9" stroke="#000" stroke-width="2.1"/>
<text x="861.90" y="798.6" font-size="17.25" text-anchor="middle" fill="#000" stroke="#000" stroke-width="0.55">0.001</text>
<line x1="935.80" y1="761.9" x2="935.80" y2="775.9" stroke="#000" stroke-width="2.1"/>
<text x="935.00" y="798.6" font-size="17.25" text-anchor="middle" fill="#000" stroke="#000" stroke-width="0.55">0.01</text>
<line x1="1008.90" y1="761.9" x2="1008.90" y2="775.9" stroke="#000" stroke-width="2.1"/>
<text x="1008.10" y="798.6" font-size="17.25" text-anchor="middle" fill="#000" stroke="#000" stroke-width="0.55">0.1</text>
<line x1="1082.00" y1="761.9" x2="1082.00" y2="775.9" stroke="#000" stroke-width="2.1"/>
<text x="1081.20" y="798.6" font-size="17.25" text-anchor="middle" fill="#000" stroke="#000" stroke-width="0.55">1</text>
<line x1="1155.10" y1="761.9" x2="1155.10" y2="775.9" stroke="#000" stroke-width="2.1"/>
<text x="1154.30" y="798.6" font-size="17.25" text-anchor="middle" fill="#000" stroke="#000" stroke-width="0.55">10</text>
<line x1="751.38" y1="761.9" x2="751.38" y2="769.4" stroke="#000" stroke-width="1.9"/>
<line x1="760.51" y1="761.9" x2="760.51" y2="769.4" stroke="#000" stroke-width="1.9"/>
<line x1="767.59" y1="761.9" x2="767.59" y2="769.4" stroke="#000" stroke-width="1.9"/>
<line x1="773.38" y1="761.9" x2="773.38" y2="769.4" stroke="#000" stroke-width="1.9"/>
<line x1="778.28" y1="761.9" x2="778.28" y2="769.4" stroke="#000" stroke-width="1.9"/>
<line x1="782.52" y1="761.9" x2="782.52" y2="769.4" stroke="#000" stroke-width="1.9"/>
<line x1="786.26" y1="761.9" x2="786.26" y2="769.4" stroke="#000" stroke-width="1.9"/>
<line x1="811.61" y1="761.9" x2="811.61" y2="769.4" stroke="#000" stroke-width="1.9"/>
<line x1="824.48" y1="761.9" x2="824.48" y2="769.4" stroke="#000" stroke-width="1.9"/>
<line x1="833.61" y1="761.9" x2="833.61" y2="769.4" stroke="#000" stroke-width="1.9"/>
<line x1="840.69" y1="761.9" x2="840.69" y2="769.4" stroke="#000" stroke-width="1.9"/>
<line x1="846.48" y1="761.9" x2="846.48" y2="769.4" stroke="#000" stroke-width="1.9"/>
<line x1="851.38" y1="761.9" x2="851.38" y2="769.4" stroke="#000" stroke-width="1.9"/>
<line x1="855.62" y1="761.9" x2="855.62" y2="769.4" stroke="#000" stroke-width="1.9"/>
<line x1="859.36" y1="761.9" x2="859.36" y2="769.4" stroke="#000" stroke-width="1.9"/>
<line x1="884.71" y1="761.9" x2="884.71" y2="769.4" stroke="#000" stroke-width="1.9"/>
<line x1="897.58" y1="761.9" x2="897.58" y2="769.4" stroke="#000" stroke-width="1.9"/>
<line x1="906.71" y1="761.9" x2="906.71" y2="769.4" stroke="#000" stroke-width="1.9"/>
<line x1="913.79" y1="761.9" x2="913.79" y2="769.4" stroke="#000" stroke-width="1.9"/>
<line x1="919.58" y1="761.9" x2="919.58" y2="769.4" stroke="#000" stroke-width="1.9"/>
<line x1="924.48" y1="761.9" x2="924.48" y2="769.4" stroke="#000" stroke-width="1.9"/>
<line x1="928.72" y1="761.9" x2="928.72" y2="769.4" stroke="#000" stroke-width="1.9"/>
<line x1="932.46" y1="761.9" x2="932.46" y2="769.4" stroke="#000" stroke-width="1.9"/>
<line x1="957.81" y1="761.9" x2="957.81" y2="769.4" stroke="#000" stroke-width="1.9"/>
<line x1="970.68" y1="761.9" x2="970.68" y2="769.4" stroke="#000" stroke-width="1.9"/>
<line x1="979.81" y1="761.9" x2="979.81" y2="769.4" stroke="#000" stroke-width="1.9"/>
<line x1="986.89" y1="761.9" x2="986.89" y2="769.4" stroke="#000" stroke-width="1.9"/>
<line x1="992.68" y1="761.9" x2="992.68" y2="769.4" stroke="#000" stroke-width="1.9"/>
<line x1="997.58" y1="761.9" x2="997.58" y2="769.4" stroke="#000" stroke-width="1.9"/>
<line x1="1001.82" y1="761.9" x2="1001.82" y2="769.4" stroke="#000" stroke-width="1.9"/>
<line x1="1005.56" y1="761.9" x2="1005.56" y2="769.4" stroke="#000" stroke-width="1.9"/>
<line x1="1030.91" y1="761.9" x2="1030.91" y2="769.4" stroke="#000" stroke-width="1.9"/>
<line x1="1043.78" y1="761.9" x2="1043.78" y2="769.4" stroke="#000" stroke-width="1.9"/>
<line x1="1052.91" y1="761.9" x2="1052.91" y2="769.4" stroke="#000" stroke-width="1.9"/>
<line x1="1059.99" y1="761.9" x2="1059.99" y2="769.4" stroke="#000" stroke-width="1.9"/>
<line x1="1065.78" y1="761.9" x2="1065.78" y2="769.4" stroke="#000" stroke-width="1.9"/>
<line x1="1070.68" y1="761.9" x2="1070.68" y2="769.4" stroke="#000" stroke-width="1.9"/>
<line x1="1074.92" y1="761.9" x2="1074.92" y2="769.4" stroke="#000" stroke-width="1.9"/>
<line x1="1078.66" y1="761.9" x2="1078.66" y2="769.4" stroke="#000" stroke-width="1.9"/>
<line x1="1104.01" y1="761.9" x2="1104.01" y2="769.4" stroke="#000" stroke-width="1.9"/>
<line x1="1116.88" y1="761.9" x2="1116.88" y2="769.4" stroke="#000" stroke-width="1.9"/>
<line x1="1126.01" y1="761.9" x2="1126.01" y2="769.4" stroke="#000" stroke-width="1.9"/>
<line x1="1133.09" y1="761.9" x2="1133.09" y2="769.4" stroke="#000" stroke-width="1.9"/>
<line x1="1138.88" y1="761.9" x2="1138.88" y2="769.4" stroke="#000" stroke-width="1.9"/>
<line x1="1143.78" y1="761.9" x2="1143.78" y2="769.4" stroke="#000" stroke-width="1.9"/>
<line x1="1148.02" y1="761.9" x2="1148.02" y2="769.4" stroke="#000" stroke-width="1.9"/>
<line x1="1151.76" y1="761.9" x2="1151.76" y2="769.4" stroke="#000" stroke-width="1.9"/>
<text transform="translate(689.5 610.2) rotate(-90)" font-size="16.8" font-weight="bold" text-anchor="middle" fill="#000" stroke="#000" stroke-width="0.5">% cell viability</text>
<text x="862.2" y="820.4" font-size="17.05" font-weight="bold" fill="#000" stroke="#000" stroke-width="0.5">Concentration (%v/v)</text>
<path d="M767.6 530.1V520.1M762.3000000000001 520.1H772.9" stroke="#6816AA" stroke-width="2.0" fill="none"/>
<path d="M767.6 530.1V539.8M762.3000000000001 539.8H772.9" stroke="#6816AA" stroke-width="2.0" fill="none"/>
<path d="M841.3 526.1V518.7M836.0 518.7H846.5999999999999" stroke="#6816AA" stroke-width="2.0" fill="none"/>
<path d="M841.3 526.1V532.3M836.0 532.3H846.5999999999999" stroke="#6816AA" stroke-width="2.0" fill="none"/>
<path d="M936.2 669V621M930.9000000000001 621H941.5" stroke="#6816AA" stroke-width="2.0" fill="none"/>
<path d="M936.2 669V717.2M930.9000000000001 717.2H941.5" stroke="#6816AA" stroke-width="2.0" fill="none"/>
<path d="M767.6 530.1 L841.3 526.1 L862.9 536 L936.2 669 L1008.9 761.9 L1067.2 761.9 L1089.3 761.9 L1111 761.9 L1133.3 761.9" stroke="#5C1296" stroke-width="2.0" fill="none" stroke-linejoin="round"/>
<circle cx="767.6" cy="530.1" r="3.7" fill="#8418E2"/>
<circle cx="841.3" cy="526.1" r="3.7" fill="#8418E2"/>
<circle cx="862.9" cy="536" r="3.7" fill="#8418E2"/>
<circle cx="936.2" cy="669" r="3.7" fill="#8418E2"/>
<circle cx="1008.9" cy="761.9" r="3.7" fill="#8418E2"/>
<circle cx="1067.2" cy="761.9" r="3.7" fill="#8418E2"/>
<circle cx="1089.3" cy="761.9" r="3.7" fill="#8418E2"/>
<circle cx="1111" cy="761.9" r="3.7" fill="#8418E2"/>
<circle cx="1133.3" cy="761.9" r="3.7" fill="#8418E2"/>
<line x1="739.9" y1="529.6" x2="1132.3" y2="529.6" stroke="#000" stroke-width="1" stroke-dasharray="1 1"/>
<line x1="1031.4" y1="488.1" x2="1055.7" y2="488.1" stroke="#5C1296" stroke-width="1.8"/>
<circle cx="1043.5500000000002" cy="488.1" r="3.7" fill="#8418E2"/>
<text x="1068.3" y="494.4" font-size="17.05" font-weight="bold" fill="#000" stroke="#000" stroke-width="0.5">Detergent</text>
</g>
</svg>
</body></html>
